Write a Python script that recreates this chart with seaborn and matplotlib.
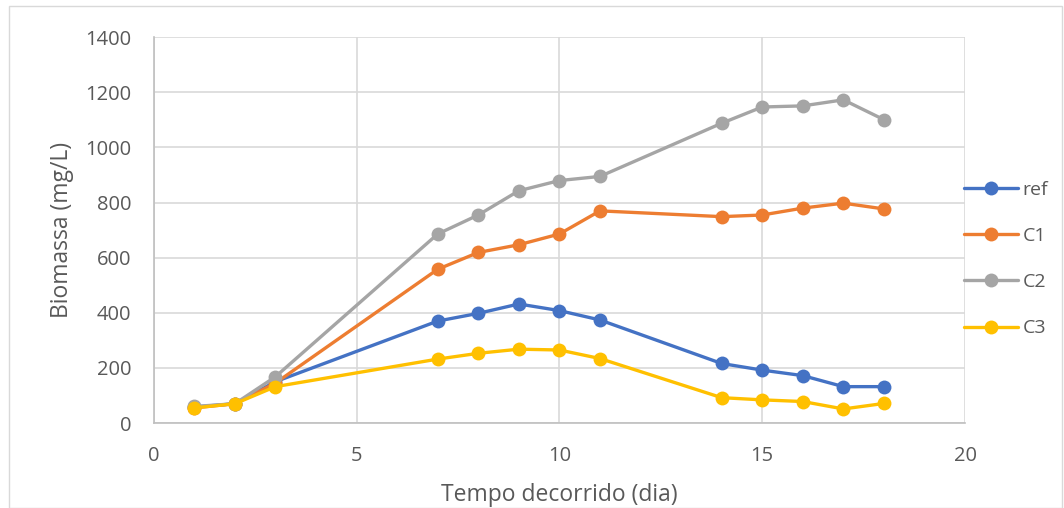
import pandas as pd
import seaborn as sns
import matplotlib.pyplot as plt
from matplotlib.patches import Rectangle

# dados
dias = [1, 2, 3, 7, 8, 9, 10, 11, 14, 15, 16, 17, 18]
ref = [58, 70, 150, 370, 398, 432, 408, 374, 216, 192, 172, 132, 132]
c1 = [55, 70, 145, 558, 619, 647, 686, 770, 749, 755, 780, 798, 777]
c2 = [60, 70, 168, 686, 755, 843, 880, 895, 1088, 1147, 1151, 1173, 1101]
c3 = [55, 70, 132, 232, 253, 268, 265, 234, 92, 84, 78, 51, 71]
series = ['ref', 'C1', 'C2', 'C3']
cores = ['#4472C4', '#ED7D31', '#A5A5A5', '#FFC000']

df = pd.DataFrame({'dia': dias, 'ref': ref, 'C1': c1, 'C2': c2, 'C3': c3})
df_long = df.melt(id_vars='dia', value_vars=series, var_name='serie', value_name='biomassa')

sns.set_style('white')
plt.rcParams['font.family'] = ['Open Sans', 'DejaVu Sans']
texto = '#595959'

fig = plt.figure(figsize=(10.64, 5.08), dpi=100)
ax = fig.add_axes([0.1445, 0.1673, 0.7625, 0.7593])

sns.lineplot(data=df_long, x='dia', y='biomassa', hue='serie', hue_order=series,
             palette=cores, marker='o', markersize=10, markeredgewidth=0,
             linewidth=2.4, ax=ax, legend=True)

ax.set_xlim(0, 20)
ax.set_ylim(0, 1400)
ax.set_xticks([0, 5, 10, 15, 20])
ax.set_yticks(range(0, 1401, 200))
ax.grid(True, color='#D9D9D9', linewidth=1.2)
ax.set_axisbelow(True)
for lado in ['top', 'right']:
    ax.spines[lado].set_visible(False)
for lado in ['left', 'bottom']:
    ax.spines[lado].set_color('#BFBFBF')
    ax.spines[lado].set_linewidth(1.2)
ax.tick_params(axis='both', length=0, labelsize=14.5, colors=texto)
ax.tick_params(axis='y', pad=16)
ax.tick_params(axis='x', pad=16.5)
ax.set_xlabel('Tempo decorrido (dia)', fontsize=16.5, color=texto, labelpad=12)
ax.set_ylabel('Biomassa (mg/L)', fontsize=16.5, color=texto, labelpad=8)

leg = ax.legend(loc='center left', bbox_to_anchor=(0.999, 0.425), frameon=False,
                fontsize=14, labelspacing=1.45, handlelength=2.75, handletextpad=0.25,
                borderpad=0, borderaxespad=0)
for t in leg.get_texts():
    t.set_color(texto)

# moldura externa do grafico
fig.patches.append(Rectangle((0.008, 0.0), 0.99, 0.988, transform=fig.transFigure,
                             fill=False, edgecolor='#D9D9D9', linewidth=1))

fig.savefig('out.png', dpi=100)
